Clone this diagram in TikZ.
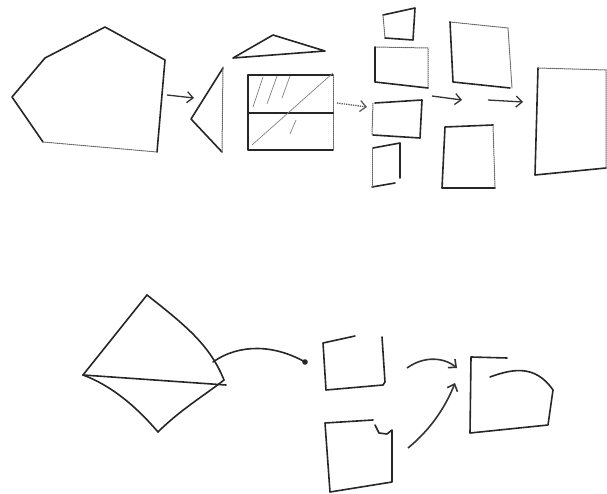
\documentclass[tikz,border=0pt]{standalone}
\usetikzlibrary{arrows.meta}
\begin{document}
\begin{tikzpicture}[
    x=1pt, y=-1pt,
    pen/.style={draw=black!85, line width=1.6pt, line join=round, line cap=round},
    faint/.style={draw=black!60, line width=1pt, densely dotted, line cap=round},
    hatch/.style={draw=black!50, line width=0.7pt},
    flow/.style={->, >={Straight Barb[length=6pt,width=11pt]}, line width=1.3pt, draw=black!80},
    faintflow/.style={flow, draw=black!65, densely dotted}
]
\useasboundingbox (0,0) rectangle (607,494);

% Top row: polygon
\draw[pen] (43,142) -- (12,97) -- (45,58) -- (105,27) -- (165,60) -- (157,152);
\draw[faint] (43,142) -- (157,152);

\coordinate (polyout) at (167,95);
\coordinate (splitin) at (194,98);
\draw[flow] (polyout) -- (splitin);

% Split pieces
\draw[pen] (223,68) -- (191,119) -- (222,152);
\draw[faint] (223,67) -- (222,152);
\draw[pen] (233,58) -- (273,35) -- (325,51) -- cycle;

% Hatched block
\draw[pen] (333,75) -- (248,75) -- (248,150) -- (333,150);
\draw[faint] (333,75) -- (333,150);
\draw[pen, line width=2.4pt] (248,113) -- (333,113);
\draw[hatch] (252,145) -- (333,73);
\draw[hatch] (263,77) -- (253,107);
\draw[hatch] (277,76) -- (267,104);
\draw[hatch] (290,76) -- (282,98);
\draw[hatch] (296,120) -- (290,134);

\coordinate (blockout) at (337,103);
\coordinate (colin) at (367,107);
\draw[faintflow] (blockout) -- (colin);

% Column of small boxes
\draw[pen] (383,15) -- (415,8) -- (413,40) -- (385,38);
\draw[faint] (383,15) -- (385,38);
\draw[faint] (375,47) -- (428,48) -- (428,88);
\draw[pen] (375,47) -- (375,82) -- (428,88);
\draw[pen] (373,135) -- (420,138) -- (422,100) -- (375,103);
\draw[faint] (373,103) -- (372,135);
\draw[pen] (373,148) -- (400,143) -- (400,178);
\draw[pen] (372,187) -- (395,183);
\draw[faint] (372,148) -- (372,187);

\coordinate (colout) at (432,96);
\coordinate (pairin) at (462,100);
\draw[flow] (colout) -- (pairin);

% Pair of boxes
\draw[faint] (450,22) -- (508,28) -- (512,88);
\draw[pen] (450,22) -- (453,82) -- (510,88);
\draw[pen] (495,188) -- (442,188) -- (445,127) -- (493,125);
\draw[faint] (493,125) -- (495,188);

\coordinate (pairout) at (488,100);
\coordinate (bigin) at (523,102);
\draw[flow] (pairout) -- (bigin);

% Large box
\draw[pen] (538,68) -- (535,175) -- (606,168);
\draw[faint] (538,68) -- (606,70) -- (606,168);

% Bottom row: diamond
\draw[pen] (147,295) -- (83,375);
\draw[pen] (147,295) .. controls (185,325) and (210,345) .. (224,380);
\draw[pen] (224,380) .. controls (205,395) and (180,410) .. (158,432);
\draw[pen] (158,432) .. controls (135,405) and (110,385) .. (83,375);
\draw[pen] (83,375) -- (226,385);

\coordinate (diamout) at (213,362);
\coordinate (boxhin) at (305,362);
\draw[pen] (diamout) .. controls (240,343) and (275,345) .. (boxhin);
\fill[black!85] (boxhin) circle (2.8pt);

% Two boxes
\draw[pen] (355,336) -- (323,343) -- (326,390) -- (383,385);
\draw[pen] (382,337) -- (385,382) -- (383,385);
\draw[pen] (373,420) -- (325,423) -- (330,492) -- (392,482) -- (392,430) -- (387,434) -- (379,433) -- (375,425);

% Merged box
\draw[pen] (507,358) -- (471,357) -- (470,433) -- (548,425) -- (553,390);
\draw[pen] (490,377) .. controls (512,369) and (535,364) .. (553,390);

\coordinate (hout) at (407,368);
\coordinate (iout) at (408,448);
\coordinate (jin) at (457,368);
\coordinate (jlow) at (455,383);
\draw[flow, line width=1.6pt] (hout) .. controls (425,355) and (445,358) .. (jin);
\draw[flow, line width=1.6pt] (iout) .. controls (430,430) and (445,408) .. (jlow);
\end{tikzpicture}
\end{document}
